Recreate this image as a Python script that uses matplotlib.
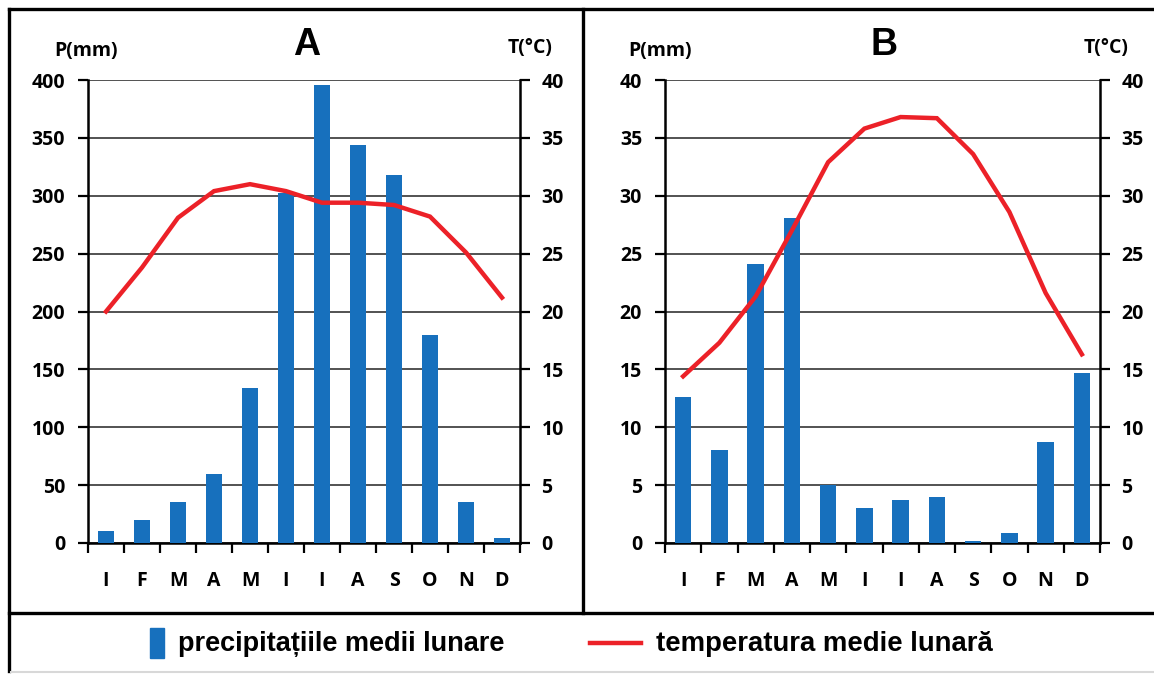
import matplotlib
matplotlib.use('Agg')
import matplotlib.pyplot as plt
from matplotlib.lines import Line2D
from matplotlib.patches import Rectangle
import numpy as np

months = ['I', 'F', 'M', 'A', 'M', 'I', 'I', 'A', 'S', 'O', 'N', 'D']
precip_A = [10, 20, 35, 60, 134, 302, 396, 344, 318, 180, 35, 4]
temp_A = [20.0, 23.8, 28.1, 30.4, 31.0, 30.4, 29.4, 29.4, 29.2, 28.2, 25.1, 21.2]
precip_B = [12.6, 8.0, 24.1, 28.1, 5.0, 3.0, 3.7, 4.0, 0.2, 0.85, 8.7, 14.7]
temp_B = [14.4, 17.3, 21.3, 27.0, 32.9, 35.8, 36.8, 36.7, 33.6, 28.6, 21.6, 16.3]
p_ticks_A = [0, 50, 100, 150, 200, 250, 300, 350, 400]
p_ticks_B = [0, 5, 10, 15, 20, 25, 30, 35, 40]
t_ticks = [0, 5, 10, 15, 20, 25, 30, 35, 40]
titles = ['A', 'B']
p_label = 'P(mm)'
t_label = 'T(°C)'
legend_labels = ['precipitațiile medii lunare', 'temperatura medie lunară']

BAR = '#1770bd'
RED = '#ec2128'
W, H = 1154, 674
TICKFONT = 'Open Sans'
TFS = 14

fig = plt.figure(figsize=(W / 100, H / 100), dpi=100)


def fx(px):
    return px / W


def fy(py):
    return 1 - py / H


def panel(left_px, right_px, precip, temp, pticks, title, title_x, plab_x, tlab_x):
    ax = fig.add_axes([fx(left_px), fy(543), fx(right_px - left_px), (543 - 80) / H])
    x = np.arange(len(months))
    ax.bar(x, precip, width=0.45, color=BAR, zorder=3)
    ax.set_xlim(-0.5, len(months) - 0.5)
    ax.set_ylim(pticks[0], pticks[-1])
    ax.set_yticks(pticks)
    ax.set_yticklabels([str(t) for t in pticks])
    ax.grid(axis='y', color='#444444', lw=1.3, zorder=0)
    ax.set_axisbelow(True)
    ax.set_xticks(x)
    ax.set_xticklabels(months)
    ax.set_xticks(np.arange(-0.5, len(months)), minor=True)
    ax.tick_params(axis='x', which='major', length=0, pad=20)
    ax.tick_params(axis='x', which='minor', length=7, width=1.6, direction='out')
    ax.tick_params(axis='y', length=7, width=1.6, direction='out', pad=9.5)
    for s in ['left', 'bottom', 'right']:
        ax.spines[s].set_linewidth(1.8)
        ax.spines[s].set_color('black')
    ax.spines['top'].set_visible(False)
    for lab in ax.get_xticklabels() + ax.get_yticklabels():
        lab.set_fontfamily(TICKFONT)
        lab.set_fontweight('bold')
        lab.set_fontsize(TFS)

    ax2 = ax.twinx()
    ax2.plot(x, temp, color=RED, lw=3.2, solid_joinstyle='miter', zorder=4)
    ax2.set_ylim(t_ticks[0], t_ticks[-1])
    ax2.set_yticks(t_ticks)
    ax2.set_yticklabels([str(t) for t in t_ticks])
    ax2.tick_params(axis='y', length=7, width=1.6, direction='out', pad=8.5)
    for s in ax2.spines.values():
        s.set_visible(False)
    for lab in ax2.get_yticklabels():
        lab.set_fontfamily(TICKFONT)
        lab.set_fontweight('bold')
        lab.set_fontsize(TFS)

    fig.text(fx(title_x), fy(45), title, ha='center', va='center',
             fontsize=27, fontweight='bold', family='Liberation Sans')
    fig.text(fx(plab_x), fy(51), p_label, ha='center', va='center',
             fontsize=14, fontweight='bold', family=TICKFONT)
    fig.text(fx(tlab_x), fy(48), t_label, ha='center', va='center',
             fontsize=14, fontweight='bold', family=TICKFONT)
    return ax, ax2


panel(88, 520, precip_A, temp_A, p_ticks_A, titles[0], 307, 86, 530)
panel(665, 1100, precip_B, temp_B, p_ticks_B, titles[1], 884, 660, 1106)

# frame lines
lw = 2.4
def fline(x0, y0, x1, y1, color='black', lwid=lw):
    fig.add_artist(Line2D([fx(x0), fx(x1)], [fy(y0), fy(y1)], color=color,
                          lw=lwid, transform=fig.transFigure, solid_capstyle='projecting'))

fline(9, 9, W, 9)
fline(9, 9, 9, 671)
fline(583, 9, 583, 613)
fline(9, 613, W, 613)
fline(11, 672, W, 672, color='#d8d8d8', lwid=1.5)

# legend
fig.add_artist(Rectangle((fx(150), fy(658)), fx(14), (658 - 628) / H, color=BAR,
                         transform=fig.transFigure))
fig.text(fx(178), fy(644), legend_labels[0], ha='left', va='center', fontsize=19.5,
         fontweight='bold', family='Liberation Sans')
fline(590, 643, 641, 643, color=RED, lwid=3.2)
fig.text(fx(656), fy(644), legend_labels[1], ha='left', va='center', fontsize=19.8,
         fontweight='bold', family='Liberation Sans')

fig.savefig('out.png', dpi=100)
